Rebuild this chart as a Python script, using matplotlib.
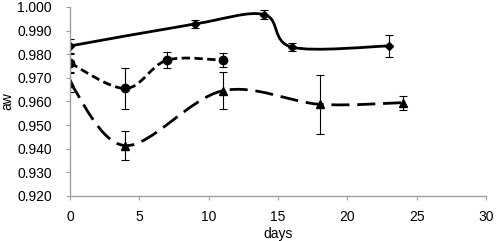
import numpy as np
import matplotlib.pyplot as plt
from matplotlib.path import Path
from matplotlib.patches import PathPatch

plt.rcParams['font.family'] = ['Liberation Sans', 'DejaVu Sans']

# series 1 - diamonds, solid line
days_a = [0, 9, 14, 16, 23]
aw_a = [0.9835, 0.9928, 0.9968, 0.9830, 0.9835]
err_a = [0.003, 0.0018, 0.0018, 0.0017, 0.0045]

# series 2 - circles, short dash
days_b = [0, 4, 7, 11]
aw_b = [0.9763, 0.9655, 0.9775, 0.9775]
err_b = [0.004, 0.0085, 0.0035, 0.003]

# series 3 - triangles, long dash
days_c = [0, 4, 11, 18, 24]
aw_c = [0.9680, 0.9413, 0.9645, 0.9588, 0.9595]
err_c = [0.004, 0.006, 0.0078, 0.0125, 0.003]

xticks = [0, 5, 10, 15, 20, 25, 30]
yticks = [0.920, 0.930, 0.940, 0.950, 0.960, 0.970, 0.980, 0.990, 1.000]


# excel-like smoothed line (catmull-rom as bezier)
def smooth_path(x, y):
    pts = np.column_stack([x, y]).astype(float)
    n = len(pts)
    verts = [pts[0]]
    codes = [Path.MOVETO]
    for i in range(n - 1):
        p0 = pts[i - 1] if i > 0 else pts[i]
        p1 = pts[i]
        p2 = pts[i + 1]
        p3 = pts[i + 2] if i + 2 < n else pts[i + 1]
        c1 = p1 + (p2 - p0) / 6.0
        c2 = p2 - (p3 - p1) / 6.0
        verts += [c1, c2, p2]
        codes += [Path.CURVE4] * 3
    return Path(verts, codes)


fig = plt.figure(figsize=(4.96, 2.41), dpi=100)
ax = fig.add_axes([0.141, 0.187, 0.839, 0.784])

styles = [
    (days_a, aw_a, err_a, 'D', 4.5, '-'),
    (days_b, aw_b, err_b, 'o', 6, (0, (3.0, 1.6))),
    (days_c, aw_c, err_c, '^', 6, (0, (6.5, 2.8))),
]
for x, y, e, m, ms, ls in styles:
    ax.add_patch(PathPatch(smooth_path(x, y), fill=False, lw=2.0,
                           ls=ls, color='black', capstyle='butt'))
    ax.errorbar(x, y, yerr=e, fmt=m, ms=ms, color='black', ecolor='black',
                elinewidth=0.8, capsize=3, capthick=0.8)

ax.set_xlim(0, 30)
ax.set_ylim(0.920, 1.000)
ax.set_xticks(xticks)
ax.set_yticks(yticks)
ax.set_yticklabels([f'{v:.3f}' for v in yticks])
for s in ['top', 'right']:
    ax.spines[s].set_visible(False)
for s in ['left', 'bottom']:
    ax.spines[s].set_color('#a0a0a0')
    ax.spines[s].set_linewidth(1.0)
ax.tick_params(colors='#a0a0a0', labelcolor='black', labelsize=10, length=3)
ax.tick_params(axis='y', pad=10)
ax.tick_params(axis='x', pad=7)
ax.set_xlabel('days', fontsize=10, labelpad=2)
ax.set_ylabel('aw', fontsize=10, labelpad=2)

fig.savefig('out.png', dpi=100)
